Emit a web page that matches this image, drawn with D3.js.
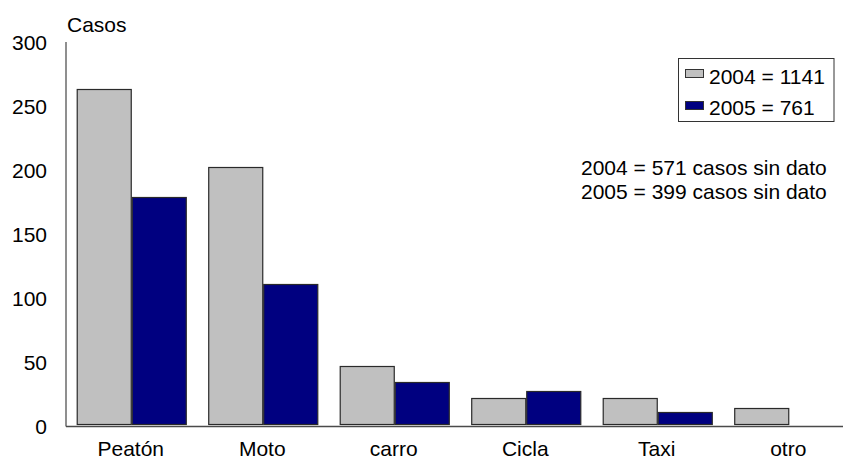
<!DOCTYPE html>
<html>
<head>
<meta charset="utf-8">
<script src="https://cdn.jsdelivr.net/npm/d3@7"></script>
<style>
  html, body { margin: 0; padding: 0; background: #fff; }
  svg { display: block; font-family: "Liberation Sans", Arial, sans-serif; }
</style>
</head>
<body>
<svg id="chart" width="843" height="461"></svg>
<script>
const categories = ["Peatón", "Moto", "carro", "Cicla", "Taxi", "otro"];
const seriesNames = ["2004", "2005"];
const values2004 = [263, 202, 47, 22, 22, 14];
const values2005 = [179, 111, 34, 27, 11, 0];
const yTicks = [0, 50, 100, 150, 200, 250, 300];
const legendLabels = ["2004 = 1141", "2005 = 761"];
const noteLines = ["2004 = 571 casos sin dato", "2005 = 399 casos sin dato"];
const yTitle = "Casos";
const colors = ["#C0C0C0", "#000080"];

const svg = d3.select("#chart");
const fontSize = 21;

const plotLeft = 66, plotTop = 42, plotBottom = 426;
const step = 131.5;
const x = d3.scaleBand().domain(categories)
  .range([plotLeft, plotLeft + step * categories.length])
  .paddingInner(0.163).paddingOuter(0.0815);
const xs = d3.scaleBand().domain(seriesNames).range([0, x.bandwidth()]);
const y = d3.scaleLinear().domain([0, 300]).range([plotBottom, plotTop]);

const data = categories.map((c, i) => ({ cat: c, vals: [values2004[i], values2005[i]] }));

// bars
const groups = svg.append("g").selectAll("g").data(data).join("g")
  .attr("transform", d => `translate(${x(d.cat)},0)`);
groups.selectAll("rect")
  .data(d => d.vals.map((v, k) => ({ v, k })).filter(e => e.v > 0))
  .join("rect")
  .attr("x", e => xs(seriesNames[e.k]) + 0.5)
  .attr("y", e => Math.round(y(e.v)) + 0.5)
  .attr("width", xs.bandwidth() - 1)
  .attr("height", e => Math.round(y(0)) - 2 - Math.round(y(e.v)))
  .attr("fill", e => colors[e.k])
  .attr("stroke", "#2a2a2a")
  .attr("stroke-width", 1.2);

// axes lines
svg.append("line").attr("x1", plotLeft).attr("x2", plotLeft)
  .attr("y1", plotTop).attr("y2", plotBottom + 0.5)
  .attr("stroke", "#6a6a6a").attr("stroke-width", 1.5);
svg.append("line").attr("x1", plotLeft).attr("x2", 843)
  .attr("y1", plotBottom + 0.5).attr("y2", plotBottom + 0.5)
  .attr("stroke", "#4a4a4a").attr("stroke-width", 1.5);

// y tick labels
svg.append("g").selectAll("text").data(yTicks).join("text")
  .attr("x", 47).attr("y", d => y(d) + 1)
  .attr("dy", "0.35em")
  .attr("text-anchor", "end")
  .attr("font-size", fontSize).attr("fill", "#000")
  .text(d => d);

// y title
svg.append("text").attr("x", 67).attr("y", 32)
  .attr("font-size", fontSize).attr("fill", "#000").text(yTitle);

// x labels
svg.append("g").selectAll("text").data(categories).join("text")
  .attr("x", d => x(d) + x.bandwidth() / 2 - 1)
  .attr("y", 456)
  .attr("text-anchor", "middle")
  .attr("font-size", fontSize).attr("fill", "#000")
  .text(d => d);

// legend
const lg = svg.append("g");
lg.append("rect").attr("x", 678.5).attr("y", 58.5).attr("width", 155.5).attr("height", 63)
  .attr("fill", "#fff").attr("stroke", "#333").attr("stroke-width", 1);
legendLabels.forEach((t, i) => {
  lg.append("rect").attr("x", 685.5).attr("y", 69.5 + i * 32).attr("width", 18).attr("height", 8)
    .attr("fill", colors[i]).attr("stroke", "#333").attr("stroke-width", 1);
  lg.append("text").attr("x", 709).attr("y", 83.5 + i * 31.5)
    .attr("font-size", fontSize).attr("fill", "#000").text(t);
});

// notes
svg.append("g").selectAll("text").data(noteLines).join("text")
  .attr("x", 581).attr("y", (d, i) => 175 + i * 24)
  .attr("font-size", fontSize).attr("fill", "#000")
  .text(d => d);
</script>
</body>
</html>
